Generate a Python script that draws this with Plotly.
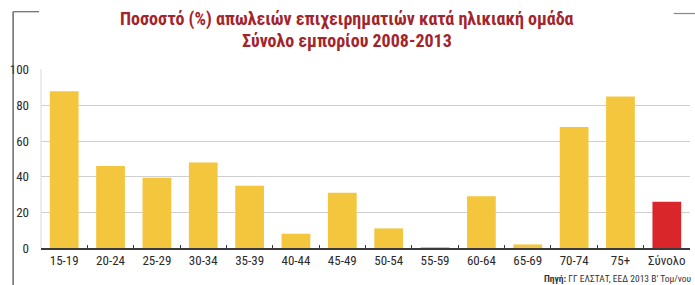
import plotly.graph_objects as go

categories = ["15-19", "20-24", "25-29", "30-34", "35-39", "40-44", "45-49",
              "50-54", "55-59", "60-64", "65-69", "70-74", "75+", "Σύνολο"]
values = [88, 46, 39.5, 48, 35, 8, 31, 11, 0.5, 29, 2, 68, 85, 26]
y_ticks = [0, 20, 40, 60, 80, 100]

title_line1 = "Ποσοστό (%) απωλειών επιχειρηματιών κατά ηλικιακή ομάδα"
title_line2 = "Σύνολο εμπορίου 2008-2013"
source_text = "<b>Πηγή:</b> ΓΓ ΕΛΣΤΑΤ, ΕΕΔ 2013 Β' Τομ/νου"

FONT = "Liberation Sans Narrow, Arial Narrow, Roboto Condensed, Liberation Sans, sans-serif"

colors = ["#f4c63d"] * (len(categories) - 1) + ["#d9262b"]

fig = go.Figure(go.Bar(
    x=categories, y=values,
    marker=dict(color=colors, line=dict(width=0)),
    width=0.62,
))

fig.update_layout(
    width=695, height=285,
    margin=dict(l=41, r=5, t=69, b=37),
    paper_bgcolor="white", plot_bgcolor="white",
    showlegend=False,
    font=dict(family=FONT, size=13, color="#2a2a2a"),
    xaxis=dict(
        showgrid=False, showline=True, linecolor="#3a3a3a", linewidth=1.5,
        ticks="inside", ticklen=3, tickcolor="#3a3a3a", tickson="boundaries",
        tickangle=0, automargin=False,
        tickfont=dict(family=FONT, size=13, color="#2a2a2a"),
        fixedrange=True,
    ),
    yaxis=dict(
        range=[0, 100.5], tickvals=y_ticks,
        showgrid=True, gridcolor="#cfcfcf", gridwidth=1,
        showline=False, zeroline=False, automargin=False,
        ticks="", ticklabelstandoff=11,
        tickfont=dict(family=FONT, size=13, color="#2a2a2a"),
        fixedrange=True,
    ),
    shapes=[
        dict(type="line", xref="paper", yref="paper", x0=0, x1=0, y0=0, y1=1,
             line=dict(color="#d8d8d8", width=1)),
        dict(type="line", xref="paper", yref="paper", x0=-0.043, x1=-0.043, y0=-0.21, y1=1.32,
             line=dict(color="#444", width=1.2)),
        dict(type="line", xref="paper", yref="paper", x0=-0.043, x1=-0.003, y0=1.32, y1=1.32,
             line=dict(color="#666", width=1.2)),
        dict(type="line", xref="paper", yref="paper", x0=0.975, x1=1.01, y0=1.31, y1=1.31,
             line=dict(color="#888", width=1.2)),
    ],
    annotations=[
        dict(text=f"<b>{title_line1}</b>", xref="paper", yref="paper", x=0.471, y=1.282,
             xanchor="center", yanchor="middle", showarrow=False,
             font=dict(family=FONT, size=18, color="#a3242a")),
        dict(text=f"<b>{title_line2}</b>", xref="paper", yref="paper", x=0.471, y=1.16,
             xanchor="center", yanchor="middle", showarrow=False,
             font=dict(family=FONT, size=18, color="#a3242a")),
        dict(text=source_text, xref="paper", yref="paper", x=1.006, y=-0.173,
             xanchor="right", yanchor="middle", showarrow=False,
             font=dict(family=FONT, size=9.5, color="#333")),
    ],
)

fig.write_html("out.html", config={"displayModeBar": False},
               post_script="document.body.style.margin='0';")
